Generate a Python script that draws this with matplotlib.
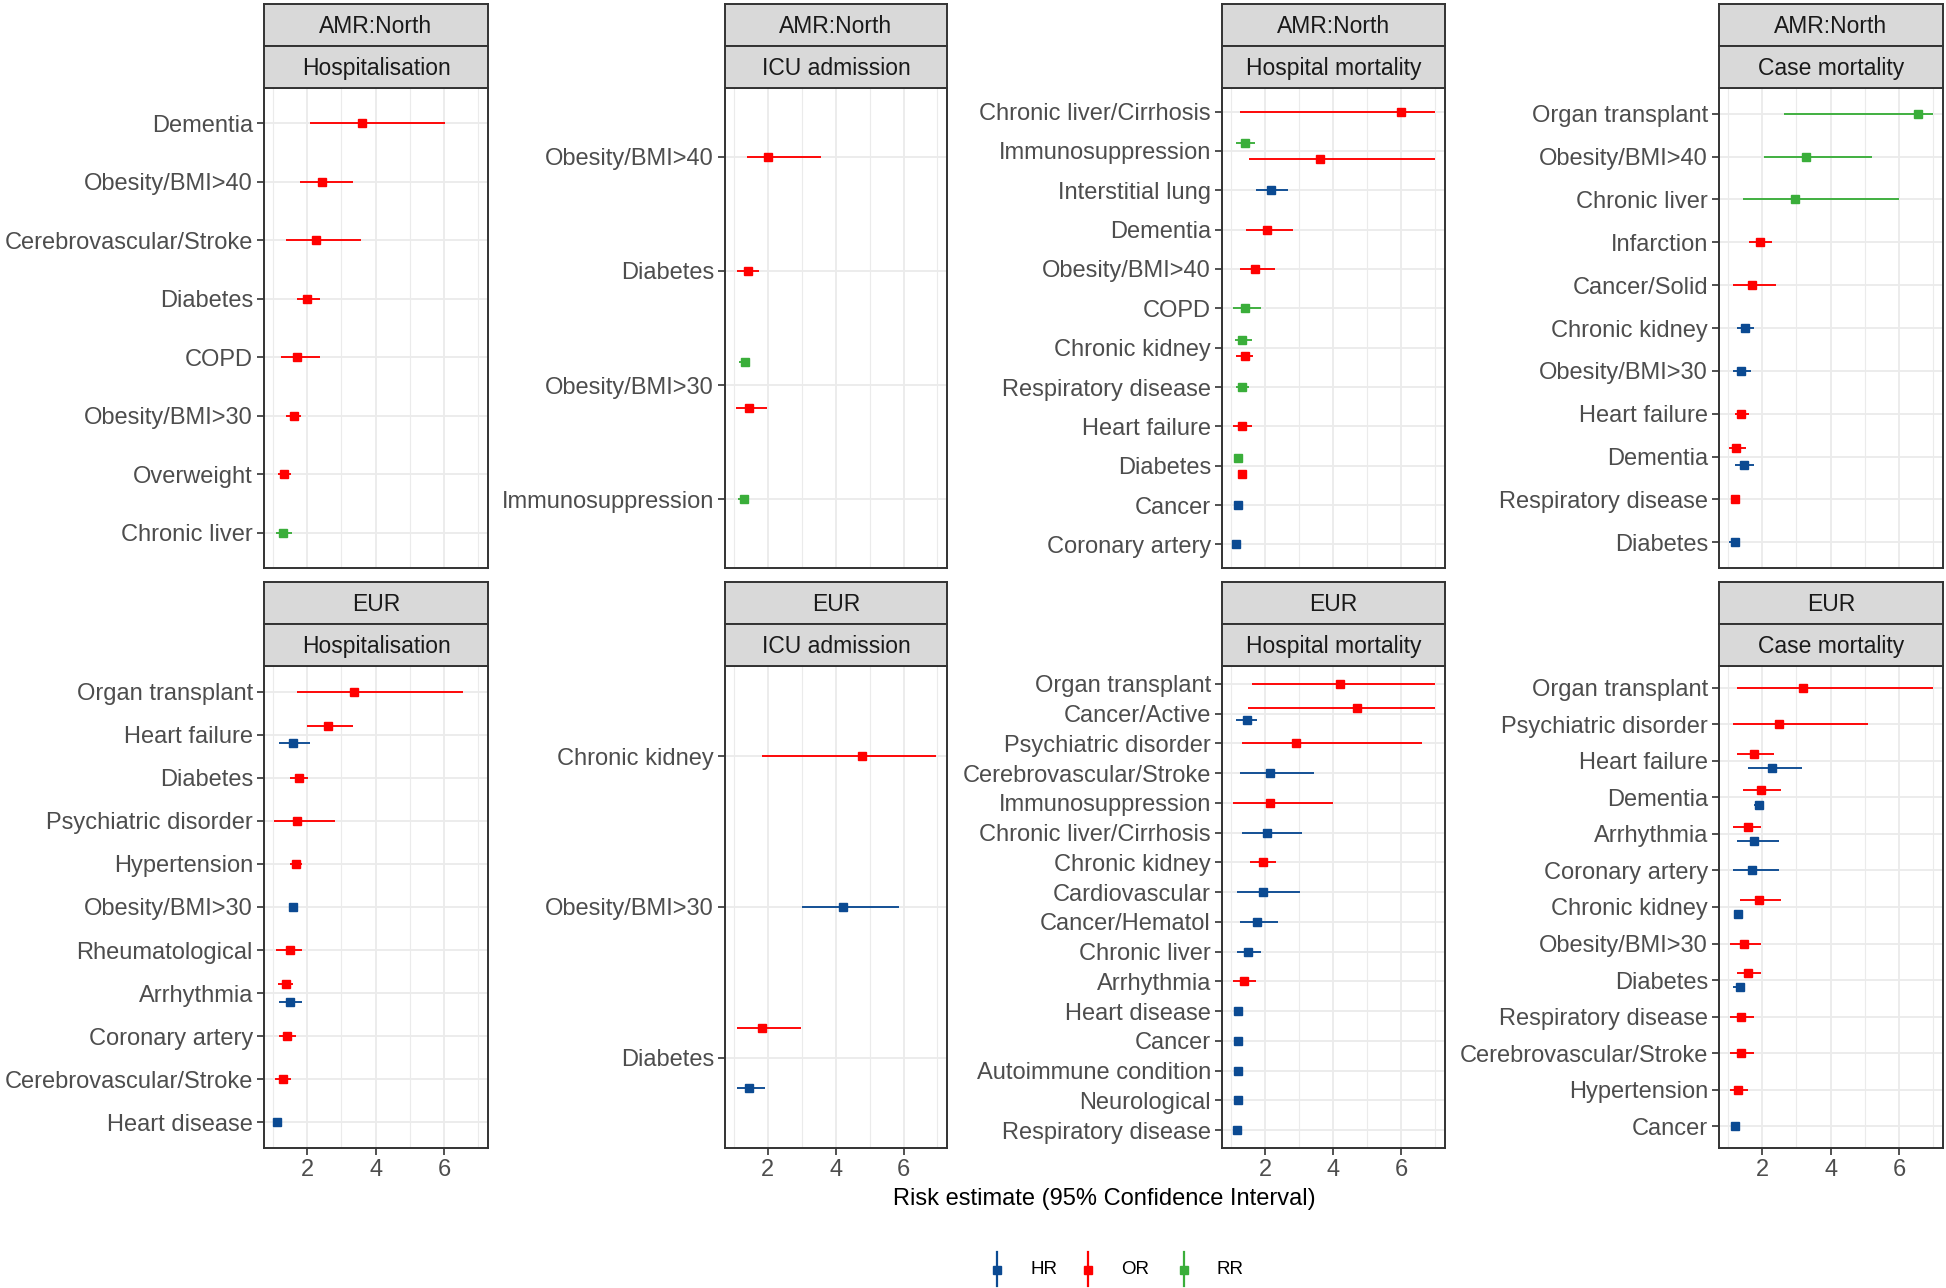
import matplotlib
matplotlib.use("Agg")
import matplotlib.pyplot as plt
from matplotlib.lines import Line2D

plt.rcParams['font.family'] = ['Liberation Sans', 'DejaVu Sans']

# ---------------- data ----------------
regions = ["AMR:North", "EUR"]
outcomes = ["Hospitalisation", "ICU admission", "Hospital mortality", "Case mortality"]
measures = ["HR", "OR", "RR"]

# AMR:North - Hospitalisation
amr_hosp_cat = ["Dementia", "Obesity/BMI>40", "Cerebrovascular/Stroke", "Diabetes", "COPD",
                "Obesity/BMI>30", "Overweight", "Chronic liver"]
amr_hosp_type = ["OR", "OR", "OR", "OR", "OR", "OR", "OR", "RR"]
amr_hosp_est = [3.59, 2.44, 2.26, 2.01, 1.71, 1.62, 1.33, 1.29]
amr_hosp_lo = [2.09, 1.78, 1.39, 1.70, 1.23, 1.39, 1.14, 1.10]
amr_hosp_hi = [6.03, 3.35, 3.57, 2.38, 2.38, 1.83, 1.53, 1.56]

# AMR:North - ICU admission
amr_icu_cat = ["Obesity/BMI>40", "Diabetes", "Obesity/BMI>30", "Obesity/BMI>30", "Immunosuppression"]
amr_icu_type = ["OR", "OR", "RR", "OR", "RR"]
amr_icu_est = [2.00, 1.41, 1.32, 1.45, 1.29]
amr_icu_lo = [1.40, 1.10, 1.16, 1.06, 1.11]
amr_icu_hi = [3.56, 1.73, 1.42, 1.98, 1.42]

# AMR:North - Hospital mortality
amr_hmort_cat = ["Chronic liver/Cirrhosis", "Immunosuppression", "Immunosuppression", "Interstitial lung",
                 "Dementia", "Obesity/BMI>40", "COPD", "Chronic kidney", "Chronic kidney",
                 "Respiratory disease", "Heart failure", "Diabetes", "Diabetes", "Cancer", "Coronary artery"]
amr_hmort_type = ["OR", "RR", "OR", "HR", "OR", "OR", "RR", "RR", "OR", "RR", "OR", "RR", "OR", "HR", "HR"]
amr_hmort_est = [5.99, 1.42, 3.60, 2.19, 2.06, 1.72, 1.42, 1.34, 1.42, 1.34, 1.34, 1.20, 1.34, 1.20, 1.16]
amr_hmort_lo = [1.27, 1.15, 1.53, 1.75, 1.44, 1.27, 1.07, 1.11, 1.15, 1.14, 1.07, 1.10, 1.21, 1.10, 1.05]
amr_hmort_hi = [7.00, 1.70, 7.00, 2.69, 2.81, 2.30, 1.88, 1.62, 1.66, 1.53, 1.62, 1.31, 1.47, 1.31, 1.27]

# AMR:North - Case mortality
amr_cmort_cat = ["Organ transplant", "Obesity/BMI>40", "Chronic liver", "Infarction", "Cancer/Solid",
                 "Chronic kidney", "Obesity/BMI>30", "Heart failure", "Dementia", "Dementia",
                 "Respiratory disease", "Diabetes"]
amr_cmort_type = ["RR", "RR", "RR", "OR", "OR", "HR", "HR", "OR", "OR", "HR", "OR", "HR"]
amr_cmort_est = [6.54, 3.27, 2.97, 1.94, 1.69, 1.50, 1.38, 1.38, 1.25, 1.46, 1.22, 1.22]
amr_cmort_lo = [2.65, 2.05, 1.44, 1.62, 1.15, 1.27, 1.16, 1.20, 1.03, 1.20, 1.10, 1.03]
amr_cmort_hi = [6.98, 5.22, 6.00, 2.30, 2.39, 1.75, 1.66, 1.62, 1.53, 1.75, 1.34, 1.36]

# EUR - Hospitalisation
eur_hosp_cat = ["Organ transplant", "Heart failure", "Heart failure", "Diabetes", "Psychiatric disorder",
                "Hypertension", "Obesity/BMI>30", "Rheumatological", "Arrhythmia", "Arrhythmia",
                "Coronary artery", "Cerebrovascular/Stroke", "Heart disease"]
eur_hosp_type = ["OR", "OR", "HR", "OR", "OR", "OR", "HR", "OR", "OR", "HR", "OR", "OR", "HR"]
eur_hosp_est = [3.37, 2.61, 1.58, 1.76, 1.71, 1.67, 1.58, 1.51, 1.37, 1.51, 1.41, 1.29, 1.11]
eur_hosp_lo = [1.70, 1.99, 1.19, 1.49, 1.02, 1.49, 1.47, 1.10, 1.14, 1.19, 1.19, 1.06, 1.00]
eur_hosp_hi = [6.54, 3.35, 2.07, 2.03, 2.80, 1.86, 1.68, 1.86, 1.60, 1.86, 1.68, 1.53, 1.21]

# EUR - ICU admission
eur_icu_cat = ["Chronic kidney", "Obesity/BMI>30", "Diabetes", "Diabetes"]
eur_icu_type = ["OR", "HR", "OR", "HR"]
eur_icu_est = [4.79, 4.22, 1.84, 1.46]
eur_icu_lo = [1.83, 3.02, 1.10, 1.10]
eur_icu_hi = [6.97, 5.86, 2.98, 1.91]

# EUR - Hospital mortality
eur_hmort_cat = ["Organ transplant", "Cancer/Active", "Cancer/Active", "Psychiatric disorder",
                 "Cerebrovascular/Stroke", "Immunosuppression", "Chronic liver/Cirrhosis", "Chronic kidney",
                 "Cardiovascular", "Cancer/Hematol", "Chronic liver", "Arrhythmia", "Heart disease",
                 "Cancer", "Autoimmune condition", "Neurological", "Respiratory disease"]
eur_hmort_type = ["OR", "OR", "HR", "OR", "HR", "OR", "HR", "OR", "HR", "HR", "HR", "OR", "HR",
                  "HR", "HR", "HR", "HR"]
eur_hmort_est = [4.19, 4.70, 1.47, 2.92, 2.15, 2.15, 2.06, 1.93, 1.93, 1.76, 1.51, 1.39, 1.20,
                 1.20, 1.20, 1.20, 1.17]
eur_hmort_lo = [1.62, 1.49, 1.15, 1.33, 1.27, 1.07, 1.33, 1.57, 1.18, 1.27, 1.19, 1.07, 1.12,
                1.12, 1.12, 1.12, 1.05]
eur_hmort_hi = [6.98, 6.98, 1.78, 6.60, 3.45, 4.00, 3.10, 2.33, 3.03, 2.38, 1.88, 1.75, 1.31,
                1.31, 1.31, 1.31, 1.27]

# EUR - Case mortality
eur_cmort_cat = ["Organ transplant", "Psychiatric disorder", "Heart failure", "Heart failure",
                 "Dementia", "Dementia", "Arrhythmia", "Arrhythmia", "Coronary artery",
                 "Chronic kidney", "Chronic kidney", "Obesity/BMI>30", "Diabetes", "Diabetes",
                 "Respiratory disease", "Cerebrovascular/Stroke", "Hypertension", "Cancer"]
eur_cmort_type = ["OR", "OR", "OR", "HR", "OR", "HR", "OR", "HR", "HR", "OR", "HR", "OR", "OR", "HR",
                  "OR", "OR", "OR", "HR"]
eur_cmort_est = [3.19, 2.50, 1.76, 2.28, 1.98, 1.90, 1.60, 1.76, 1.69, 1.90, 1.30, 1.46, 1.60, 1.34,
                 1.38, 1.38, 1.30, 1.22]
eur_cmort_lo = [1.26, 1.15, 1.26, 1.58, 1.44, 1.76, 1.15, 1.26, 1.15, 1.36, 1.17, 1.07, 1.27, 1.15,
                1.07, 1.07, 1.07, 1.10]
eur_cmort_hi = [6.98, 5.10, 2.34, 3.16, 2.56, 2.03, 1.96, 2.48, 2.48, 2.56, 1.41, 1.96, 1.96, 1.48,
                1.75, 1.75, 1.58, 1.32]

x_ticks = [2, 4, 6]
x_label = "Risk estimate (95% Confidence Interval)"

panels = [
    (0, 0, amr_hosp_cat, amr_hosp_type, amr_hosp_est, amr_hosp_lo, amr_hosp_hi),
    (0, 1, amr_icu_cat, amr_icu_type, amr_icu_est, amr_icu_lo, amr_icu_hi),
    (0, 2, amr_hmort_cat, amr_hmort_type, amr_hmort_est, amr_hmort_lo, amr_hmort_hi),
    (0, 3, amr_cmort_cat, amr_cmort_type, amr_cmort_est, amr_cmort_lo, amr_cmort_hi),
    (1, 0, eur_hosp_cat, eur_hosp_type, eur_hosp_est, eur_hosp_lo, eur_hosp_hi),
    (1, 1, eur_icu_cat, eur_icu_type, eur_icu_est, eur_icu_lo, eur_icu_hi),
    (1, 2, eur_hmort_cat, eur_hmort_type, eur_hmort_est, eur_hmort_lo, eur_hmort_hi),
    (1, 3, eur_cmort_cat, eur_cmort_type, eur_cmort_est, eur_cmort_lo, eur_cmort_hi),
]

# ---------------- style / layout ----------------
COLORS = {"HR": "#0B4A92", "OR": "#FF0000", "RR": "#3AAE3A"}
DODGE_ORDER = {"RR": 0, "OR": 1, "HR": 2}   # top -> bottom within a category
W, H = 1946, 1288
col_x = [(264, 488), (725, 947), (1222, 1445), (1719, 1943)]
row_y = [(4, 46, 88, 568), (582, 624, 666, 1148)]   # strip1 top, strip2 top, panel top, panel bottom
XLIM = (0.74, 7.28)
BORDER = "#333333"
GRID = "#EBEBEB"

fig = plt.figure(figsize=(W / 100, H / 100), dpi=100)


def rect(x0, y0, x1, y1):
    return [x0 / W, 1 - y1 / H, (x1 - x0) / W, (y1 - y0) / H]


def strip(x0, y0, x1, y1, label):
    sa = fig.add_axes(rect(x0, y0, x1, y1))
    sa.set_facecolor("#D9D9D9")
    sa.set_xticks([])
    sa.set_yticks([])
    for s in sa.spines.values():
        s.set_color(BORDER)
        s.set_linewidth(1.4)
    sa.text(0.5, 0.46, label, ha="center", va="center", fontsize=16.5, color="#1A1A1A",
            transform=sa.transAxes)


for r, c, cat, typ, est, lo, hi in panels:
    x0, x1 = col_x[c]
    s1, s2, p0, p1 = row_y[r]
    ax = fig.add_axes(rect(x0, p0, x1, p1))
    cats = list(dict.fromkeys(cat))
    n = len(cats)
    pos = {k: n - 1 - i for i, k in enumerate(cats)}
    groups = {}
    for k, t in zip(cat, typ):
        groups.setdefault(k, []).append(t)
    for k, t, e, l, h in zip(cat, typ, est, lo, hi):
        y = pos[k]
        g = sorted(groups[k], key=lambda m: DODGE_ORDER[m])
        if len(g) == 2:
            y += 0.2 if g.index(t) == 0 else -0.2
        ax.hlines(y, l, h, color=COLORS[t], lw=1.35, zorder=3)
        ax.plot([e], [y], marker="s", ms=5.5, color=COLORS[t], mec=COLORS[t], zorder=4)
    ax.set_xlim(*XLIM)
    ax.set_ylim(-0.6, n - 0.4)
    ax.set_yticks(range(n))
    ax.set_yticklabels(cats[::-1])
    ax.set_xticks(x_ticks)
    ax.set_xticks([1, 3, 5, 7], minor=True)
    ax.grid(True, which="major", color=GRID, lw=1.3, zorder=0)
    ax.grid(True, which="minor", axis="x", color=GRID, lw=0.8, zorder=0)
    ax.set_axisbelow(True)
    for s in ax.spines.values():
        s.set_color(BORDER)
        s.set_linewidth(1.4)
    ax.tick_params(axis="y", length=5, width=1.2, color=BORDER, labelcolor="#4D4D4D",
                   labelsize=17, pad=3)
    ax.tick_params(axis="x", which="minor", length=0)
    if r == 1:
        ax.tick_params(axis="x", which="major", length=5, width=1.2, color=BORDER,
                       labelcolor="#4D4D4D", labelsize=17, pad=3)
    else:
        ax.tick_params(axis="x", which="major", length=0, labelbottom=False)
    strip(x0, s1, x1, s2, regions[r])
    strip(x0, s2, x1, p0, outcomes[c])

fig.text(1104 / W, 1 - 1199 / H, x_label, ha="center", va="center", fontsize=17, color="black")

# legend
leg_key_x = [997, 1088, 1184]
for m, kx in zip(measures, leg_key_x):
    fig.add_artist(Line2D([kx / W, kx / W], [1 - 1252 / H, 1 - 1286 / H], color=COLORS[m], lw=1.6,
                          transform=fig.transFigure))
    fig.add_artist(Line2D([kx / W], [1 - 1270 / H], marker="s", ms=5.5, color=COLORS[m],
                          transform=fig.transFigure))
    fig.text((kx + 33) / W, 1 - 1270 / H, m, ha="left", va="center", fontsize=13.5, color="black")

fig.savefig("out.png", dpi=100)
